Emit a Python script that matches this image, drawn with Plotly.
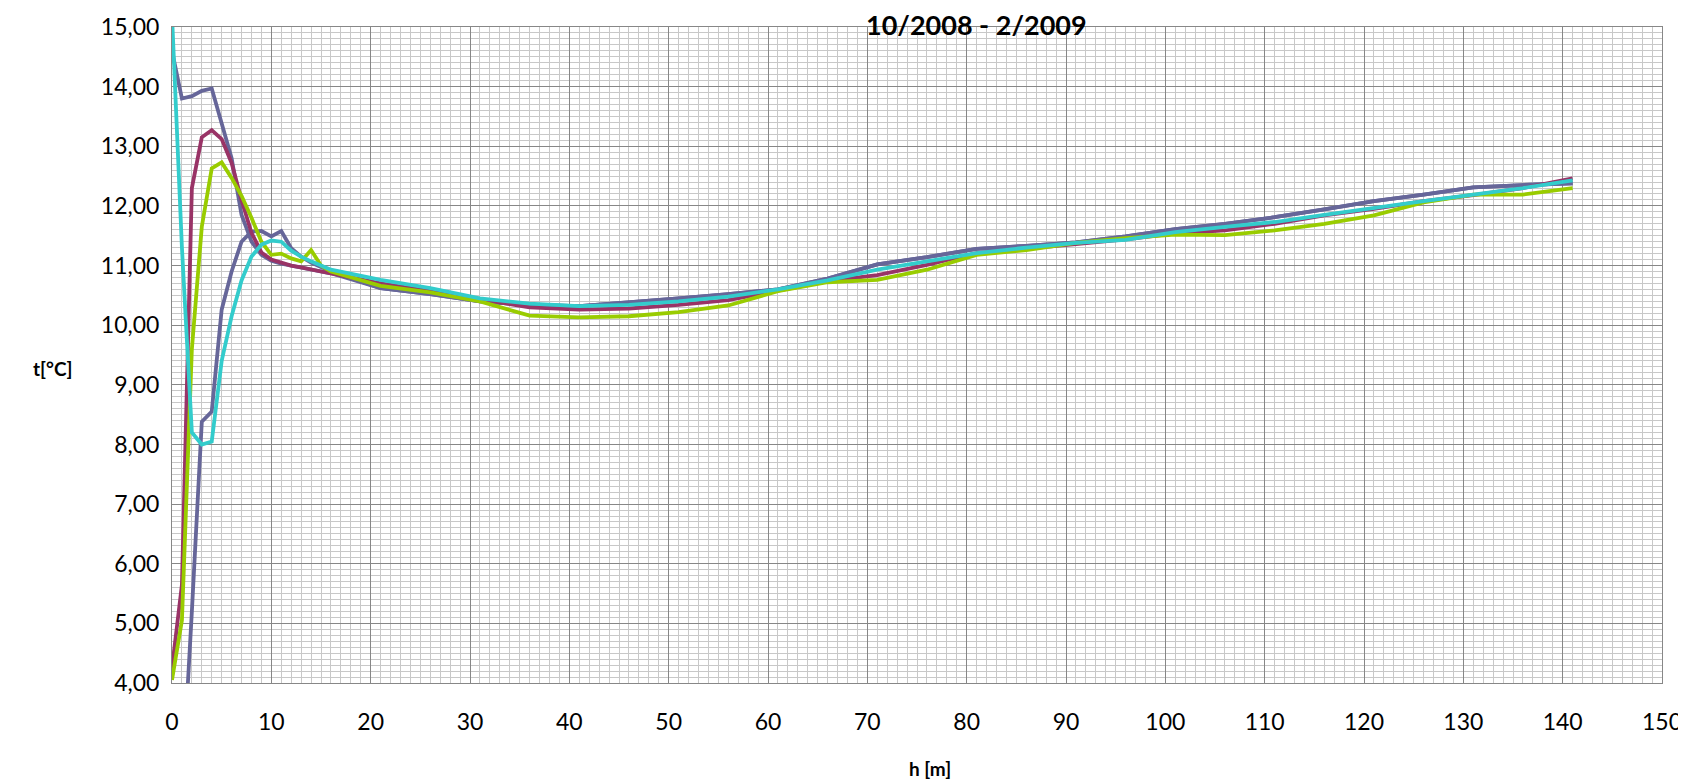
import plotly.graph_objects as go

# depth [m]
h = [0, 1, 2, 3, 4, 5, 6, 7, 8, 9, 10, 11, 12, 13, 14, 15, 16,
     21, 26, 31, 36, 41, 46, 51, 56, 61, 66, 71, 76, 81, 86, 91, 96,
     101, 106, 111, 116, 121, 126, 131, 136, 141]

# temperature series [°C]
t_slate_a = [14.60, 13.80, 13.84, 13.93, 13.97, 13.40, 12.80, 11.85, 11.40, 11.18, 11.08, 11.03, 11.00, 10.97, 10.93, 10.90, 10.87,
             10.62, 10.52, 10.40, 10.34, 10.32, 10.38, 10.45, 10.52, 10.60, 10.78, 11.02, 11.14, 11.28, 11.33, 11.39, 11.49,
             11.61, 11.70, 11.81, 11.94, 12.08, 12.19, 12.31, 12.35, 12.38]
t_slate_b = [1.00, 2.20, 5.20, 8.38, 8.55, 10.26, 10.90, 11.40, 11.57, 11.58, 11.49, 11.58, 11.29, 11.15, 11.05, 10.97, 10.90,
             10.62, 10.52, 10.40, 10.34, 10.32, 10.38, 10.45, 10.52, 10.60, 10.78, 11.02, 11.14, 11.28, 11.33, 11.39, 11.49,
             11.61, 11.70, 11.81, 11.94, 12.08, 12.19, 12.31, 12.35, 12.38]
t_magenta = [4.25, 5.65, 12.30, 13.15, 13.27, 13.12, 12.72, 12.10, 11.55, 11.22, 11.10, 11.05, 11.00, 10.97, 10.93, 10.90, 10.87,
             10.70, 10.57, 10.44, 10.30, 10.26, 10.28, 10.34, 10.42, 10.58, 10.74, 10.84, 11.01, 11.21, 11.28, 11.36, 11.44,
             11.54, 11.59, 11.70, 11.84, 11.95, 12.08, 12.18, 12.30, 12.46]
t_green = [4.05, 5.05, 9.60, 11.65, 12.63, 12.73, 12.47, 12.17, 11.80, 11.40, 11.18, 11.20, 11.12, 11.07, 11.26, 11.00, 10.90,
           10.66, 10.55, 10.40, 10.16, 10.13, 10.15, 10.22, 10.33, 10.57, 10.72, 10.76, 10.93, 11.18, 11.26, 11.38, 11.46,
           11.52, 11.51, 11.59, 11.70, 11.84, 12.06, 12.19, 12.19, 12.30]
t_turq = [15.20, 11.30, 8.20, 8.00, 8.05, 9.40, 10.15, 10.75, 11.15, 11.35, 11.42, 11.40, 11.25, 11.15, 11.07, 11.00, 10.93,
          10.76, 10.62, 10.45, 10.36, 10.32, 10.34, 10.40, 10.48, 10.60, 10.75, 10.93, 11.07, 11.21, 11.30, 11.38, 11.43,
          11.56, 11.65, 11.73, 11.85, 11.97, 12.08, 12.19, 12.30, 12.43]

x_ticks = list(range(0, 151, 10))

FONT = "Lato, 'Open Sans', sans-serif"

series = [
    (t_slate_a, "#666699"),
    (t_slate_b, "#666699"),
    (t_magenta, "#993366"),
    (t_green, "#99CC00"),
    (t_turq, "#33CCCC"),
]

fig = go.Figure()
for vals, col in series:
    fig.add_trace(go.Scatter(x=h, y=vals, mode="lines",
                             line=dict(color=col, width=3.8),
                             showlegend=False, hoverinfo="x+y"))

fig.update_layout(
    width=1686, height=779,
    margin=dict(l=164, r=32, t=19, b=104, autoexpand=False),
    paper_bgcolor="white", plot_bgcolor="white",
    separators=", ",
    font=dict(family=FONT, size=23, color="black"),
    showlegend=False,
)

fig.update_xaxes(
    range=[0, 150], tickvals=x_ticks, ticks="", ticklabelstandoff=18,
    automargin=False,
    showgrid=True, gridcolor="#878787", gridwidth=1,
    minor=dict(dtick=1, showgrid=True, gridcolor="#c8c8c8", gridwidth=1),
    showline=True, linecolor="#878787", linewidth=1, mirror=True,
    zeroline=False, tickfont=dict(family=FONT, size=23),
)
fig.update_yaxes(
    range=[4, 15], dtick=1, tick0=4, tickformat=".2f", ticks="", ticklabelstandoff=7,
    automargin=False,
    showgrid=True, gridcolor="#878787", gridwidth=1,
    minor=dict(dtick=0.1, showgrid=True, gridcolor="#c8c8c8", gridwidth=1),
    showline=True, linecolor="#878787", linewidth=1, mirror=True,
    zeroline=False, tickfont=dict(family=FONT, size=23),
)

fig.add_annotation(text="<b>10/2008 - 2/2009</b>", xref="paper", yref="paper",
                   x=0.54, y=1.032, xanchor="center", yanchor="top",
                   showarrow=False, font=dict(family=FONT, size=27, color="black"))
fig.add_annotation(text="<b>t[°C]</b>", xref="paper", yref="paper",
                   x=-0.08, y=0.48, xanchor="center", yanchor="middle",
                   showarrow=False, font=dict(family=FONT, size=19, color="black"))
fig.add_annotation(text="<b>h [m]</b>", xref="paper", yref="paper",
                   x=0.509, y=-0.131, xanchor="center", yanchor="middle",
                   showarrow=False, font=dict(family=FONT, size=19, color="black"))

fig.write_html("out.html")
